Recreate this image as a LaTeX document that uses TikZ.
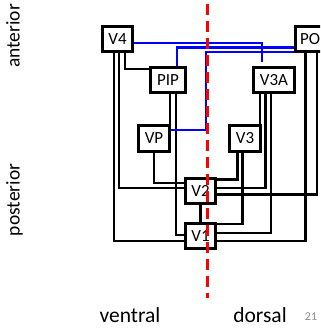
\documentclass[tikz,border=0pt]{standalone}
\usepackage{fontspec}
\setmainfont{Carlito}
\begin{document}
\begin{tikzpicture}[x=1pt,y=-1pt,
  box/.style={draw=black, line width=2.6pt, fill=white, inner sep=0pt, font=\fontsize{17}{18}\selectfont},
  wire/.style={line width=2.8pt, black},
  bwire/.style={line width=2.7pt, blue},
  reddash/.style={line width=3pt, red, dash pattern=on 11pt off 6pt},
  lab/.style={font=\fontsize{21.5}{24}\selectfont, inner sep=0pt},
  sidelab/.style={font=\fontsize{19.5}{22}\selectfont, inner sep=0pt, rotate=90, anchor=base}]
\useasboundingbox (0,0) rectangle (320,328);
\clip (0,0) rectangle (320,328);
% boxes
\node[box, minimum width=30.4pt, minimum height=25.4pt] (V4) at (117.5,39) {V4};
\node[box, minimum width=35.4pt, minimum height=25.4pt] (PIP) at (168,80) {PIP};
\node[box, minimum width=31.4pt, minimum height=26.4pt] (VP) at (154,138.5) {VP};
\node[box, minimum width=41.4pt, minimum height=25.4pt] (V3A) at (274,80) {V3A};
\node[box, minimum width=31.4pt, minimum height=26.4pt] (V3) at (245,138.5) {V3};
\node[box, minimum width=30.4pt, minimum height=25.4pt] (V2) at (200.5,191) {V2};
\node[box, minimum width=30.4pt, minimum height=25.4pt] (V1) at (200.5,236) {V1};
\node[box, anchor=west, minimum height=25.4pt, text width=40pt, align=left, inner xsep=4.5pt] (PO) at (294.3,39) {PO};
% black connectors
\draw[wire] (V4.south -| 125,0) |- (PIP.west |- 0,69);
\draw[wire] (V4.south -| 119,0) |- (V2.west |- 0,188);
\draw[wire] (V4.south -| 114,0) |- (V1.west |- 0,241);
\draw[wire] (PIP.south -| 170,0) -- (VP.north -| 170,0);
\draw[wire] (PIP.south -| 176,0) |- (V1.west |- 0,235);
\draw[wire] (VP.south -| 154,0) |- (V2.west |- 0,183);
\draw[wire] (V3A.south -| 260,0) -- (V3.north -| 260,0);
\draw[wire] (V3A.south -| 265.5,0) |- (V2.east |- 0,188);
\draw[wire] (V3A.south -| 271,0) |- (V1.east |- 0,233);
\draw[wire] (V3.south -| 237.5,0) |- (V2.east |- 0,179.5);
\draw[wire] (V3.south -| 242.5,0) |- (V1.east |- 0,224);
\draw[wire] (PO.south -| 317,0) |- (V2.east |- 0,194.5);
\draw[wire] (PO.south -| 305.5,0) |- (V1.east |- 0,241);
\draw[wire] (V2) -- (V1);
% blue connectors
\coordinate (tick) at (262,62);
\coordinate (bend) at (206,52);
\draw[bwire] (V4.east |- 0,43) -| (tick);
\draw[bwire] (PIP.north -| 177,0) |- (PO.west |- 0,47.5);
\draw[bwire] (VP.east |- 0,130) -| (bend) -- (PO.west |- bend);
% red midline
\coordinate (rtop) at (207.5,4);
\coordinate (rbot) at (207.5,298);
\draw[reddash] (rtop) -- (rbot);
% labels
\node[sidelab] (ant) at (19.5,36) {anterior};
\node[sidelab] (post) at (19.5,200) {posterior};
\node[lab, anchor=base] (ven) at (130,322) {ventral};
\node[lab, anchor=base] (dor) at (260,322) {dorsal};
\node[font=\fontsize{12}{14}\selectfont, text=black!45, anchor=base, inner sep=0pt] (pg) at (311,320) {21};
\end{tikzpicture}
\end{document}
